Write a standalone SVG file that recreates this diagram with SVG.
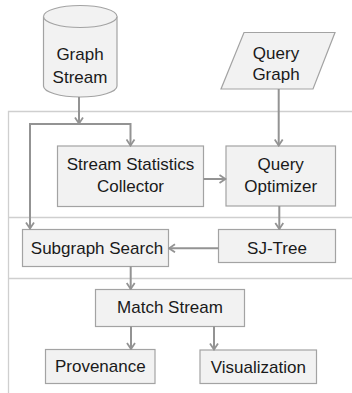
<svg xmlns="http://www.w3.org/2000/svg" width="352" height="393" viewBox="0 0 352 393">
<style>
.box{fill:#f2f2f2;stroke:#a3a3a3;stroke-width:1.2}
.lbl{font-family:"Liberation Sans",Arial,sans-serif;font-size:17px;fill:#1a1a1a;text-anchor:middle}
.conn{fill:none;stroke:#939393;stroke-width:2}
.panel{fill:none;stroke:#cfcfcf;stroke-width:1.3}
</style>
<defs>
<marker id="arr" viewBox="0 0 10 10" refX="9" refY="5" markerWidth="10" markerHeight="10" markerUnits="userSpaceOnUse" orient="auto">
<path d="M3,1 L9,5 L3,9" fill="none" stroke="#939393" stroke-width="1.8"/>
</marker>
</defs>
<g id="panels">
<path class="panel" d="M8.5,393 V111.5 H352"/>
<path class="panel" d="M8.5,217.5 H352"/>
<path class="panel" d="M8.5,278.5 H352"/>
</g>
<g id="graph-stream">
<path class="box" d="M43.5,16.5 A36.75,11 0 0,1 117,16.5 L117,86 A36.75,11 0 0,1 43.5,86 Z"/>
<path class="box" d="M43.5,16.5 A36.75,11 0 0,0 117,16.5" fill="none"/>
<text class="lbl" x="80" y="60">Graph</text>
<text class="lbl" x="80" y="82.5">Stream</text>
</g>
<g id="query-graph">
<polygon class="box" points="244,32.5 335,32.5 313,89 221,89"/>
<text class="lbl" x="276" y="58.5">Query</text>
<text class="lbl" x="276" y="79.5">Graph</text>
</g>
<g id="stream-statistics-collector">
<rect class="box" x="57.5" y="146" width="146" height="60.5"/>
<text class="lbl" x="130.5" y="170">Stream Statistics</text>
<text class="lbl" x="130.5" y="192">Collector</text>
</g>
<g id="query-optimizer">
<rect class="box" x="226" y="146" width="109.5" height="60"/>
<text class="lbl" x="280.7" y="169.5">Query</text>
<text class="lbl" x="280.7" y="191.5">Optimizer</text>
</g>
<g id="subgraph-search">
<rect class="box" x="22.5" y="229.5" width="146" height="37"/>
<text class="lbl" x="97" y="253.5">Subgraph Search</text>
</g>
<g id="sj-tree">
<rect class="box" x="218.5" y="229.5" width="117" height="33"/>
<text class="lbl" x="277" y="253.5">SJ-Tree</text>
</g>
<g id="match-stream">
<rect class="box" x="95.5" y="289.5" width="149" height="37"/>
<text class="lbl" x="170" y="313">Match Stream</text>
</g>
<g id="provenance">
<rect class="box" x="45.5" y="349.5" width="109.5" height="34"/>
<text class="lbl" x="100.3" y="372">Provenance</text>
</g>
<g id="visualization">
<rect class="box" x="200" y="350" width="116.5" height="33.5"/>
<text class="lbl" x="258.3" y="373">Visualization</text>
</g>
<g id="connectors">
<path class="conn" d="M79,97 V123.5" marker-end="url(#arr)"/>
<path class="conn" d="M79,124 H30 V228.5" marker-end="url(#arr)"/>
<path class="conn" d="M79,124 H130.5 V145.5" marker-end="url(#arr)"/>
<path class="conn" d="M278.7,89 V145.5" marker-end="url(#arr)"/>
<path class="conn" d="M203.5,179 H225.5" marker-end="url(#arr)"/>
<path class="conn" d="M279.3,206 V229" marker-end="url(#arr)"/>
<path class="conn" d="M218.5,248.3 H169" marker-end="url(#arr)"/>
<path class="conn" d="M130.7,266.5 V289" marker-end="url(#arr)"/>
<path class="conn" d="M131,326.5 V349" marker-end="url(#arr)"/>
<path class="conn" d="M214,326.5 V349.5" marker-end="url(#arr)"/>
</g>
</svg>
